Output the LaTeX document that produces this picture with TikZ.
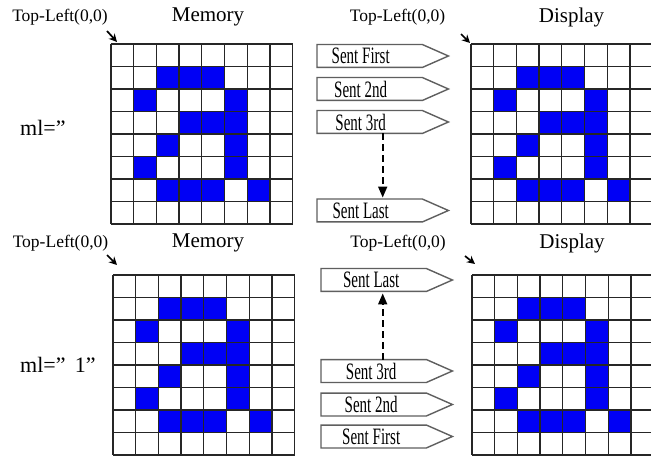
\documentclass[tikz,border=0pt]{standalone}
\usepackage{fontspec}
\setmainfont{Liberation Serif}
\newfontfamily\condfont[FakeStretch=0.64]{Liberation Serif}
\usetikzlibrary{arrows.meta,calc}
\definecolor{pixblue}{RGB}{0,0,245}
\definecolor{boxgray}{RGB}{95,95,95}
\def\cw{22.7}
\def\ch{22.5}
\tikzset{
  gridline/.style={draw=black!85, line width=1.3pt},
  pixel/.style={fill=pixblue},
  sentnode/.style={minimum width=105pt, minimum height=22.5pt, inner sep=0pt,
    font={\condfont\fontsize{23.5}{25}\selectfont}},
  boxline/.style={draw=boxgray, line width=1.4pt, line join=miter},
  lbl/.style={inner sep=0pt, font=\fontsize{17.5}{19}\selectfont},
  titlelbl/.style={inner sep=0pt, font=\fontsize{21}{23}\selectfont},
  mllbl/.style={inner sep=0pt, anchor=west, font=\fontsize{22}{24}\selectfont},
  cornerarrow/.style={draw=black, line width=1.7pt, -{Stealth[length=8pt,width=8pt]}},
  dasharrow/.style={draw=black, line width=1.7pt, dash pattern=on 7pt off 4pt,
    -{Triangle[length=11pt,width=9pt]}}
}
\newcommand{\pixgrid}[3]{%
  \begin{scope}[shift={(#1,#2)}]
    \coordinate (#3) at (0,0);
    \foreach \r/\c in {1/2,1/3,1/4,2/1,2/5,3/3,3/4,3/5,4/2,4/5,5/1,5/5,6/2,6/3,6/4,6/6}
      \fill[pixel] (\c*\cw,\r*\ch) rectangle ++(\cw,\ch);
    \foreach \i in {0,...,8} {
      \draw[gridline] (\i*\cw,0) -- (\i*\cw,8*\ch);
      \draw[gridline] (0,\i*\ch) -- (8*\cw,\i*\ch);
    }
  \end{scope}}
% name, x-left, y-centre, text, text shift (twice the leftward offset)
\newcommand{\sentbox}[5]{%
  \node[sentnode, anchor=west] (#1) at (#2,#3) {\hspace*{-#5pt}#4};
  \draw[boxline] (#1.north west) -- (#1.north east) -- ([xshift=26pt]#1.east)
    -- (#1.south east) -- (#1.south west) -- cycle;}
\begin{document}
\begin{tikzpicture}[x=1pt,y=-1pt]
\useasboundingbox (0,0) rectangle (651,457);
\fill[white] (0,0) rectangle (651,457);

% grids
\pixgrid{111}{44}{gmemA}
\pixgrid{471}{44}{gdispA}
\pixgrid{113}{275}{gmemB}
\pixgrid{472}{275}{gdispB}

% labels
\node[lbl] (tlA) at (60,17) {Top-Left(0,0)};
\node[titlelbl] (memA) at (208,17) {Memory};
\node[lbl] (tlB) at (397.5,17) {Top-Left(0,0)};
\node[titlelbl] (dispA) at (571.5,17) {Display};
\node[lbl] (tlC) at (60.5,243) {Top-Left(0,0)};
\node[titlelbl] (memB) at (208,243) {Memory};
\node[lbl] (tlD) at (398,243) {Top-Left(0,0)};
\node[titlelbl] (dispB) at (572,243) {Display};
\node[mllbl] (mlA) at (20,128) {ml=”};
\node[mllbl] (mlB) at (20,365) {ml=” \,1”};

% corner arrows
\coordinate (caA1) at (107,31);  \coordinate (caA2) at (117,42);
\coordinate (caB1) at (461,34);  \coordinate (caB2) at (470,43);
\coordinate (caC1) at (107,255); \coordinate (caC2) at (117,265);
\coordinate (caD1) at (465,256); \coordinate (caD2) at (475,264);
\draw[cornerarrow] (caA1) -- (caA2);
\draw[cornerarrow] (caB1) -- (caB2);
\draw[cornerarrow] (caC1) -- (caC2);
\draw[cornerarrow] (caD1) -- (caD2);

% top send sequence
\sentbox{sfA}{317}{56}{Sent First}{18}
\sentbox{s2A}{317}{89}{Sent 2nd}{18}
\sentbox{s3A}{317}{122}{Sent 3rd}{18}
\sentbox{slA}{317}{210.5}{Sent Last}{18}
\draw[dasharrow] ([xshift=13pt]s3A.south) -- ([xshift=13pt,yshift=1.5pt]slA.north);

% bottom send sequence
\sentbox{slB}{321}{280}{Sent Last}{5}
\sentbox{s3B}{321}{371}{Sent 3rd}{5}
\sentbox{s2B}{321}{404.5}{Sent 2nd}{5}
\sentbox{sfB}{321}{436.5}{Sent First}{5}
\draw[dasharrow] ([xshift=9pt]s3B.north) -- ([xshift=9pt,yshift=-2pt]slB.south);
\end{tikzpicture}
\end{document}
